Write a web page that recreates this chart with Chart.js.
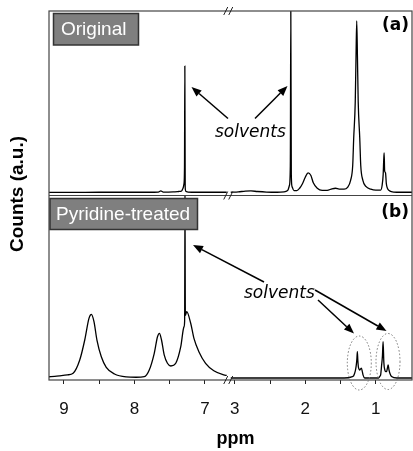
<!DOCTYPE html>
<html lang="en">
<head>
<meta charset="UTF-8">
<title>1H NMR spectra</title>
<script src="https://cdn.jsdelivr.net/npm/chart.js"></script>
<style>
  html, body { margin: 0; padding: 0; background: #fff; }
  #wrap { width: 413px; height: 451px; }
</style>
</head>
<body>
<div id="wrap"><canvas id="nmr" width="413" height="451"></canvas></div>
<script>
// x axis is broken: two ppm windows side by side
const leftSeg = [9.211, 6.69];
const rightSeg = [3.057, 0.486];
const tickPpm = [9, 8.5, 8, 7.5, 7, 3, 2.5, 2, 1.5, 1];

// (a) original
const origLeftPpm = [9.211, 8.9, 8.5, 8.1, 7.8, 7.66, 7.625, 7.59, 7.45, 7.37, 7.33, 7.31, 7.296, 7.289, 7.284, 7.279, 7.27, 7.24, 7.1, 6.9, 6.69];
const origLeftCounts = [0.2, 0.2, 0.3, 0.3, 0.3, 0.4, 1.0, 0.4, 0.5, 0.7, 1.0, 2.5, 5, 14, 69.7, 3, 0.8, 0.4, 0.3, 0.3, 0.3];
const origRightPpm = [3.057, 2.95, 2.85, 2.77, 2.68, 2.55, 2.4, 2.3, 2.25, 2.225, 2.212, 2.205, 2.198, 2.188, 2.16, 2.12, 2.08, 2.04, 2.0, 1.96, 1.92, 1.886, 1.83, 1.76, 1.69, 1.62, 1.57, 1.52, 1.45, 1.40, 1.356, 1.327, 1.313, 1.291, 1.28, 1.27, 1.26, 1.249, 1.227, 1.213, 1.184, 1.14, 1.07, 1.0, 0.95, 0.93, 0.91, 0.895, 0.886, 0.881, 0.874, 0.862, 0.85, 0.835, 0.81, 0.78, 0.7, 0.486];
const origRightCounts = [0.3, 0.5, 0.9, 1.0, 0.7, 0.4, 0.3, 0.5, 1.2, 4, 15, 100, 10, 3.5, 1.2, 1.2, 2.5, 5, 8.5, 11, 9.5, 5.5, 2.5, 1.3, 1.3, 2.2, 2.5, 2.0, 2.0, 3.0, 7, 15, 30, 50, 75, 94.5, 75, 50, 30, 15, 7, 3.5, 2, 1.5, 1.5, 1.5, 4, 10, 19, 21.9, 12, 11, 5, 2.5, 1.2, 0.6, 0.3, 0.3];

// (b) pyridine-treated
const pyrLeftPpm = [9.211, 9.13, 9.056, 8.95, 8.869, 8.775, 8.704, 8.644, 8.61, 8.573, 8.531, 8.469, 8.399, 8.282, 8.117, 7.976, 7.859, 7.789, 7.718, 7.672, 7.644, 7.615, 7.577, 7.531, 7.483, 7.413, 7.342, 7.296, 7.287, 7.282, 7.277, 7.258, 7.201, 7.155, 7.085, 6.99, 6.873, 6.732, 6.69];
const pyrLeftCounts = [0.3, 0.5, 0.8, 1.3, 2.2, 9.5, 20.5, 32.4, 34.6, 30.6, 20.5, 11.3, 5.5, 1.8, 0.2, 0, 0.3, 4.0, 13.2, 22.3, 24.2, 20.5, 12.3, 7.7, 6.2, 7.7, 16.8, 27.8, 31, 100, 34, 36.1, 29.7, 21.4, 14.1, 7.7, 3.6, 1.3, 1.0];
const pyrRightPpm = [3.057, 2.8, 2.5, 2.2, 1.9, 1.6, 1.45, 1.33, 1.314, 1.29, 1.276, 1.268, 1.261, 1.254, 1.247, 1.238, 1.229, 1.215, 1.204, 1.19, 1.181, 1.157, 1.1, 1.0, 0.96, 0.943, 0.93, 0.919, 0.905, 0.896, 0.885, 0.871, 0.859, 0.847, 0.835, 0.824, 0.812, 0.8, 0.776, 0.7, 0.6, 0.486];
const pyrRightCounts = [-0.4, -0.4, -0.4, -0.4, -0.4, -0.4, -0.4, 0.4, 0.8, 3.5, 6.8, 10, 14.1, 9, 5.8, 4.5, 4.0, 4.6, 5.0, 3, 1.3, -0.4, -0.4, -0.4, -0.4, 0.5, 1.5, 5.8, 12, 19.6, 8, 4.0, 3.1, 3.1, 5, 6.8, 4, 2.2, 0.4, -0.4, -0.4, -0.4];

const GAP = 0.057;
const segW = leftSeg[0] - leftSeg[1];
function toT(p) {
    return p > 5 ? leftSeg[0] - p : segW + GAP + (rightSeg[0] - p);
}
function fromT(t) {
    return t <= segW + GAP / 2 ? leftSeg[0] - t : rightSeg[0] - (t - segW - GAP);
}
function pts(ppm, counts) {
    return ppm.map((p, i) => ({x: toT(p), y: counts[i]}));
}

const SANS = '"Liberation Sans", Arial, sans-serif';
const DEJA = '"DejaVu Sans", Verdana, sans-serif';

function arrow(ctx, x1, y1, x2, y2) {
    const ang = Math.atan2(y2 - y1, x2 - x1);
    const len = 10, hw = 4;
    const bx = x2 - len * Math.cos(ang), by = y2 - len * Math.sin(ang);
    ctx.beginPath();
    ctx.moveTo(x1, y1);
    ctx.lineTo(bx, by);
    ctx.stroke();
    ctx.beginPath();
    ctx.moveTo(x2, y2);
    ctx.lineTo(bx + hw * Math.sin(ang), by - hw * Math.cos(ang));
    ctx.lineTo(bx - hw * Math.sin(ang), by + hw * Math.cos(ang));
    ctx.closePath();
    ctx.fill();
}

function labelBox(ctx, x, y, w, h, text, tx, ty) {
    ctx.fillStyle = '#7f7f7f';
    ctx.fillRect(x, y, w, h);
    ctx.strokeStyle = '#333';
    ctx.lineWidth = 1.5;
    ctx.strokeRect(x, y, w, h);
    ctx.fillStyle = '#fff';
    ctx.font = '19px ' + SANS;
    ctx.textAlign = 'left';
    ctx.textBaseline = 'alphabetic';
    ctx.fillText(text, tx, ty);
}

const decor = {
    id: 'decor',
    afterDatasetsDraw(chart) {
        const ctx = chart.ctx, a = chart.chartArea;
        const mid = chart.scales.yTop.bottom;
        const bx = chart.scales.x.getPixelForValue(segW + GAP / 2);
        ctx.save();

        // frame + panel divider
        ctx.strokeStyle = '#444';
        ctx.lineWidth = 1.2;
        ctx.strokeRect(a.left, a.top, a.right - a.left, a.bottom - a.top);
        ctx.beginPath();
        ctx.moveTo(a.left, mid);
        ctx.lineTo(a.right, mid);
        ctx.stroke();

        // axis break marks
        ctx.strokeStyle = '#222';
        ctx.lineWidth = 1;
        [a.top, mid, a.bottom].forEach(y => {
            for (let i = 0; i < 2; i++) {
                ctx.beginPath();
                ctx.moveTo(bx - 5 + i * 5, y + 4);
                ctx.lineTo(bx - 1 + i * 5, y - 4);
                ctx.stroke();
            }
        });

        // sample labels
        labelBox(ctx, 53.5, 13.5, 85, 31.5, 'Original', 61, 34.5);
        labelBox(ctx, 50, 198.5, 147.5, 31, 'Pyridine-treated', 56, 219.5);

        // panel letters
        ctx.fillStyle = '#000';
        ctx.font = 'bold 17px ' + DEJA;
        ctx.textAlign = 'right';
        ctx.fillText('(a)', 409, 30);
        ctx.fillText('(b)', 409, 217);

        // solvent annotations
        ctx.font = 'italic 17px ' + DEJA;
        ctx.textAlign = 'left';
        ctx.fillText('solvents', 215, 136.5);
        ctx.fillText('solvents', 244, 298);

        ctx.strokeStyle = '#000';
        ctx.lineWidth = 1.5;
        arrow(ctx, 228, 118.5, 191.5, 87);
        arrow(ctx, 255, 118.5, 287.5, 86);
        arrow(ctx, 264, 282, 193, 245);
        arrow(ctx, 318, 300, 354, 333.5);
        arrow(ctx, 315, 290, 386.5, 331);

        ctx.strokeStyle = '#777';
        ctx.lineWidth = 1;
        ctx.setLineDash([1.5, 2]);
        ctx.beginPath();
        ctx.ellipse(359.3, 363, 12, 27, 0, 0, Math.PI * 2);
        ctx.stroke();
        ctx.beginPath();
        ctx.ellipse(388, 361.5, 12, 28, 0, 0, Math.PI * 2);
        ctx.stroke();
        ctx.setLineDash([]);

        // axis titles
        ctx.fillStyle = '#000';
        ctx.font = 'bold 18px ' + SANS;
        ctx.textAlign = 'center';
        ctx.fillText('ppm', 235.5, 444);
        ctx.translate(22.5, 194);
        ctx.rotate(-Math.PI / 2);
        ctx.font = 'bold 19px ' + SANS;
        ctx.fillText('Counts (a.u.)', 0, 0);
        ctx.restore();
    }
};

const yPanel = {
    type: 'linear',
    stack: 'spectra',
    stackWeight: 1,
    position: 'left',
    min: -1.5,
    max: 100,
    ticks: { display: false },
    grid: { display: false },
    border: { display: false },
    afterFit: s => { s.width = 0; }
};

new Chart(document.getElementById('nmr'), {
    type: 'line',
    data: {
        datasets: [
            { data: pts(origLeftPpm, origLeftCounts), yAxisID: 'yTop' },
            { data: pts(origRightPpm, origRightCounts), yAxisID: 'yTop' },
            { data: pts(pyrLeftPpm, pyrLeftCounts), yAxisID: 'yLow' },
            { data: pts(pyrRightPpm, pyrRightCounts), yAxisID: 'yLow' }
        ]
    },
    options: {
        responsive: false,
        animation: false,
        layout: { padding: { left: 49, top: 11, right: 1, bottom: 0 } },
        elements: {
            point: { radius: 0 },
            line: { borderColor: '#000', borderWidth: 1.3, cubicInterpolationMode: 'monotone' }
        },
        plugins: { legend: { display: false }, tooltip: { enabled: false } },
        scales: {
            x: {
                type: 'linear',
                bounds: 'data',
                min: 0,
                max: toT(rightSeg[1]),
                border: { display: false },
                grid: { drawOnChartArea: false, tickLength: 4, color: '#222', lineWidth: 1 },
                ticks: {
                    autoSkip: false,
                    maxRotation: 0,
                    padding: 15,
                    color: '#111',
                    font: { family: SANS, size: 17 },
                    callback: v => {
                        const p = fromT(v), r = Math.round(p);
                        return Math.abs(p - r) < 0.01 ? String(r) : '';
                    }
                },
                afterBuildTicks: s => { s.ticks = tickPpm.map(p => ({ value: toT(p) })); },
                afterFit: s => { s.height = 71; }
            },
            yLow: Object.assign({}, yPanel),
            yTop: Object.assign({}, yPanel)
        }
    },
    plugins: [decor]
});
</script>
</body>
</html>
